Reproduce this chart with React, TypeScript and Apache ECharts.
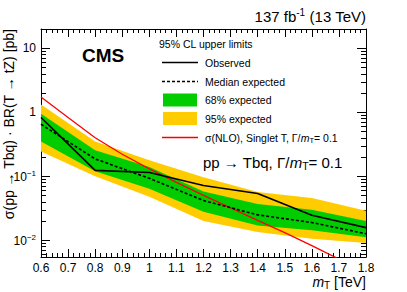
import React, { useEffect, useRef } from "react";
import * as echarts from "echarts";

// Mass points (TeV) of the limit scan
const masses = [0.6, 0.8, 1.0, 1.2, 1.4, 1.6, 1.8];
// 95% CL upper limits on sigma x BR [pb]
const observed = [0.83, 0.124, 0.115, 0.072, 0.054, 0.0246, 0.0158];
const expectedMedian = [0.65, 0.187, 0.093, 0.042, 0.025, 0.019, 0.0127];
const expected68Up = [0.95, 0.255, 0.14, 0.058, 0.037, 0.03, 0.02];
const expected68Down = [0.35, 0.12, 0.064, 0.028, 0.017, 0.0144, 0.0112];
const expected95Up = [1.33, 0.35, 0.178, 0.097, 0.057, 0.046, 0.029];
const expected95Down = [0.245, 0.1, 0.048, 0.02, 0.0135, 0.0106, 0.0091];
// Theory sigma(NLO), singlet T, Gamma/m = 0.1
const theoryMasses = [0.6, 0.7, 0.8, 0.9, 1.0, 1.1, 1.2, 1.3, 1.4, 1.5, 1.6, 1.7, 1.8];
const theoryXsec = [1.73, 0.83, 0.4, 0.221, 0.131, 0.0806, 0.0505, 0.0322, 0.0205, 0.0132, 0.0083, 0.0051, 0.0032];
// Axis settings
const xMin = 0.6;
const xMax = 1.8;
const xStep = 0.1;
const yMin = 0.0055;
const yMax = 20;
const yTickExponents = [-2, -1, 0, 1];

const F = "'Liberation Sans', Arial, Helvetica, 'DejaVu Sans', sans-serif";

export default function App() {
  const ref = useRef<HTMLDivElement>(null);

  useEffect(() => {
    const chart = echarts.init(ref.current as HTMLDivElement, null, { renderer: "svg" });

    const band = (up: number[], down: number[], color: string, z: number) => ({
      type: "custom",
      coordinateSystem: "cartesian2d",
      silent: true,
      z,
      data: [[masses[0], up[0]]],
      renderItem: (_p: any, api: any) => {
        const points: number[][] = [];
        for (let i = 0; i < masses.length; i++) points.push(api.coord([masses[i], up[i]]));
        for (let i = masses.length - 1; i >= 0; i--) points.push(api.coord([masses[i], down[i]]));
        return { type: "polygon", shape: { points }, style: { fill: color, stroke: null } };
      },
    });

    const xAxisCommon = {
      type: "value",
      min: xMin,
      max: xMax,
      interval: xStep,
      axisLine: { show: true, lineStyle: { color: "#000", width: 1 } },
      axisTick: { show: true, inside: true, length: 8, lineStyle: { color: "#000", width: 1 } },
      minorTick: { show: true, splitNumber: 5, length: 4, lineStyle: { color: "#000", width: 1 } },
      splitLine: { show: false },
      minorSplitLine: { show: false },
    };
    const yAxisCommon = {
      type: "log",
      logBase: 10,
      min: yMin,
      max: yMax,
      axisLine: { show: true, lineStyle: { color: "#000", width: 1 } },
      axisTick: { show: true, inside: true, length: 9, lineStyle: { color: "#000", width: 1 } },
      minorTick: { show: true, splitNumber: 9, length: 5, lineStyle: { color: "#000", width: 1 } },
      splitLine: { show: false },
      minorSplitLine: { show: false },
    };

    const yLabel = (v: number) => {
      const e = Math.log10(v);
      const r = Math.round(e);
      if (Math.abs(e - r) > 1e-6 || yTickExponents.indexOf(r) < 0) return "";
      if (r === 0) return "{b|1}";
      if (r === 1) return "{b|10}";
      return "{b|10}{sup|\u2212" + Math.abs(r) + "}";
    };

    chart.setOption({
      animation: false,
      backgroundColor: "#fff",
      textStyle: { fontFamily: F },
      grid: { left: 41, right: 41, top: 29, bottom: 35 },
      xAxis: [
        {
          ...xAxisCommon,
          position: "bottom",
          axisLabel: { show: true, color: "#000", fontSize: 12, fontFamily: F, margin: 5 },
        },
        { ...xAxisCommon, position: "top", axisLabel: { show: false } },
      ],
      yAxis: [
        {
          ...yAxisCommon,
          position: "left",
          axisLabel: {
            show: true,
            color: "#000",
            margin: 5,
            showMinLabel: false,
            showMaxLabel: false,
            formatter: yLabel,
            rich: {
              b: { fontSize: 12, fontFamily: F, color: "#000", verticalAlign: "bottom" },
              sup: { fontSize: 8, fontFamily: F, color: "#000", verticalAlign: "top", padding: [0, 0, 6, 0] },
            },
          },
        },
        { ...yAxisCommon, position: "right", axisLabel: { show: false } },
      ],
      series: [
        band(expected95Up, expected95Down, "#ffcc00", 1),
        band(expected68Up, expected68Down, "#00cc00", 2),
        {
          type: "line",
          name: "theory",
          data: theoryMasses.map((m, i) => [m, theoryXsec[i]]),
          symbol: "none",
          lineStyle: { color: "#ff0000", width: 1.3 },
          z: 3,
          clip: true,
        },
        {
          type: "line",
          name: "median",
          data: masses.map((m, i) => [m, expectedMedian[i]]),
          symbol: "none",
          lineStyle: { color: "#000", width: 1.6, type: [3, 2] },
          z: 4,
        },
        {
          type: "line",
          name: "observed",
          data: masses.map((m, i) => [m, observed[i]]),
          symbol: "none",
          lineStyle: { color: "#000", width: 1.6 },
          z: 5,
        },
      ],
      graphic: [
        {
          type: "text",
          x: 366,
          y: 16,
          style: {
            text: "137 fb{sup|-1} (13 TeV)",
            fontSize: 15,
            fontFamily: F,
            fill: "#000",
            textAlign: "right",
            textVerticalAlign: "middle",
            rich: { sup: { fontSize: 10, fontFamily: F, verticalAlign: "top", padding: [0, 0, 7, 0] } },
          },
        },
        {
          type: "text",
          x: 82,
          y: 55,
          style: { text: "CMS", fontSize: 19, fontWeight: "bold", fontFamily: F, fill: "#000", textVerticalAlign: "middle" },
        },
        {
          type: "text",
          x: 159,
          y: 44,
          style: { text: "95% CL upper limits", fontSize: 10.5, fontFamily: F, fill: "#000", textVerticalAlign: "middle" },
        },
        { type: "line", shape: { x1: 162, y1: 62.5, x2: 198, y2: 62.5 }, style: { stroke: "#000", lineWidth: 1.5 } },
        { type: "line", shape: { x1: 162, y1: 81.5, x2: 198, y2: 81.5 }, style: { stroke: "#000", lineWidth: 1.5, lineDash: [3, 2] } },
        { type: "rect", shape: { x: 163, y: 93.5, width: 34, height: 13 }, style: { fill: "#00cc00" } },
        { type: "rect", shape: { x: 163, y: 112, width: 34, height: 13 }, style: { fill: "#ffcc00" } },
        { type: "line", shape: { x1: 162, y1: 137.5, x2: 198, y2: 137.5 }, style: { stroke: "#ff0000", lineWidth: 1.3 } },
        {
          type: "text",
          x: 205,
          y: 62.5,
          style: { text: "Observed", fontSize: 10.5, fontFamily: F, fill: "#000", textVerticalAlign: "middle" },
        },
        {
          type: "text",
          x: 205,
          y: 81.5,
          style: { text: "Median expected", fontSize: 10.5, fontFamily: F, fill: "#000", textVerticalAlign: "middle" },
        },
        {
          type: "text",
          x: 205,
          y: 100,
          style: { text: "68% expected", fontSize: 10.5, fontFamily: F, fill: "#000", textVerticalAlign: "middle" },
        },
        {
          type: "text",
          x: 205,
          y: 118.5,
          style: { text: "95% expected", fontSize: 10.5, fontFamily: F, fill: "#000", textVerticalAlign: "middle" },
        },
        {
          type: "text",
          x: 205,
          y: 137.5,
          style: {
            text: "\u03c3(NLO), Singlet T, \u0393/{i|m}{sub|T}= 0.1",
            fontSize: 10.5,
            fontFamily: F,
            fill: "#000",
            textVerticalAlign: "middle",
            rich: {
              i: { fontSize: 10.5, fontFamily: F, fontStyle: "italic" },
              sub: { fontSize: 7.5, fontFamily: F, verticalAlign: "bottom", padding: [5, 0, 0, 0] },
            },
          },
        },
        {
          type: "text",
          x: 203,
          y: 162,
          style: {
            text: "pp \u2192 Tbq, \u0393/{i|m}{sub|T}= 0.1",
            fontSize: 15,
            fontFamily: F,
            fill: "#000",
            textVerticalAlign: "middle",
            rich: {
              i: { fontSize: 15, fontFamily: F, fontStyle: "italic" },
              sub: { fontSize: 10.5, fontFamily: F, verticalAlign: "bottom", padding: [7, 0, 0, 0] },
            },
          },
        },
        {
          type: "text",
          x: 366,
          y: 282,
          style: {
            text: "{i|m}{sub|T} [TeV]",
            fontSize: 14,
            fontFamily: F,
            fill: "#000",
            textAlign: "right",
            textVerticalAlign: "middle",
            rich: {
              i: { fontSize: 14, fontFamily: F, fontStyle: "italic" },
              sub: { fontSize: 10, fontFamily: F, verticalAlign: "bottom", padding: [6, 0, 0, 0] },
            },
          },
        },
        {
          type: "text",
          x: 9,
          y: 29,
          rotation: Math.PI / 2,
          style: {
            text: "\u03c3(pp \u2192 Tbq) \u00b7 BR(T \u2192 tZ) [pb]",
            fontSize: 14,
            fontFamily: F,
            fill: "#000",
            textAlign: "right",
            textVerticalAlign: "middle",
          },
        },
      ],
    });

    return () => chart.dispose();
  }, []);

  return (
    <div
      ref={ref}
      style={{ position: "fixed", left: 0, top: 0, width: 407, height: 292, background: "#fff" }}
    />
  );
}
